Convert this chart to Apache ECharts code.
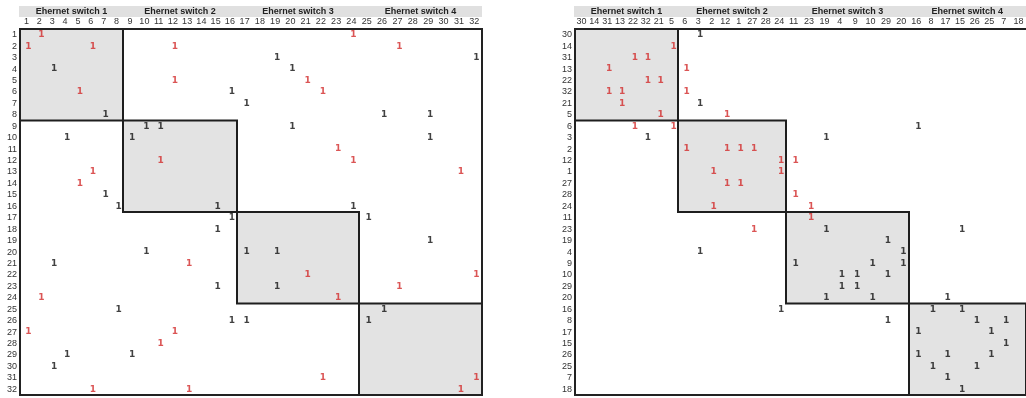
<!DOCTYPE html>
<html>
<head>
<meta charset="utf-8">
<title>Switch port matrix</title>
<script src="https://cdn.jsdelivr.net/npm/echarts@6/dist/echarts.min.js"></script>
<style>
  html, body { margin: 0; padding: 0; background: #fff; }
  #chart { width: 1026px; height: 398px; }
</style>
</head>
<body>
<div id="chart"></div>
<script>
// ports in original order (left) and reordered by switch (right)
const leftOrder = ['1', '2', '3', '4', '5', '6', '7', '8', '9', '10', '11', '12', '13', '14', '15', '16',
  '17', '18', '19', '20', '21', '22', '23', '24', '25', '26', '27', '28', '29', '30', '31', '32']
const rightOrder = ['30', '14', '31', '13', '22', '32', '21', '5', '6', '3', '2', '12', '1', '27', '28', '24',
  '11', '23', '19', '4', '9', '10', '29', '20', '16', '8', '17', '15', '26', '25', '7', '18']
const switchNames = ['Ehernet switch 1', 'Ehernet switch 2', 'Ehernet switch 3', 'Ehernet switch 4']

// [row port, column port] of every cell holding a 1
const redCells = [
  [1, 2], [1, 24], [2, 1], [2, 6], [2, 12], [2, 27], [5, 12], [5, 21], [6, 5], [6, 22],
  [11, 23], [12, 11], [12, 24], [13, 6], [13, 31], [14, 5], [21, 13], [22, 21], [22, 32],
  [23, 27], [24, 2], [24, 23], [27, 1], [27, 12], [28, 11], [31, 22], [31, 32],
  [32, 6], [32, 13], [32, 31]
]
const blackCells = [
  [3, 19], [3, 32], [4, 3], [4, 20], [6, 16], [7, 17], [8, 7], [8, 26], [8, 29],
  [9, 10], [9, 11], [9, 20], [10, 4], [10, 9], [10, 29], [15, 7], [16, 8], [16, 15], [16, 24],
  [17, 16], [17, 25], [18, 15], [19, 29], [20, 10], [20, 17], [20, 19], [21, 3],
  [23, 15], [23, 19], [25, 8], [25, 26], [26, 16], [26, 17], [26, 25], [29, 4], [29, 9], [30, 3]
]

// panel layout: the spreadsheet columns are not all the same width
const panels = [
  { left: 20, top: 29, colW: [103, 114, 122, 123], rowH: 91.5, order: leftOrder },
  { left: 575, top: 29, colW: [103, 108, 123, 123], rowH: 91.5, order: rightOrder }
]
const font = 'Liberation Sans, Arial, sans-serif'

const grid = []
const xAxis = []
const yAxis = []
const series = []
const graphic = []

panels.forEach(p => {
  const totalW = p.colW.reduce((a, b) => a + b, 0)
  // grey header band behind the switch names
  graphic.push({
    type: 'rect',
    z: -1,
    shape: { x: p.left - 1, y: 6, width: totalW + 1, height: 11 },
    style: { fill: '#e0e0e0' }
  })

  let x0 = p.left
  for (let bj = 0; bj < 4; bj++) {
    const cols = p.order.slice(bj * 8, bj * 8 + 8)
    for (let bi = 0; bi < 4; bi++) {
      const rows = p.order.slice(bi * 8, bi * 8 + 8)
      const g = grid.length
      const diag = bi === bj
      grid.push({
        left: x0,
        top: p.top + bi * p.rowH,
        width: p.colW[bj],
        height: p.rowH,
        show: diag,
        backgroundColor: '#e3e3e3',
        borderColor: '#1e1e1e',
        borderWidth: 2
      })
      xAxis.push({
        type: 'category',
        gridIndex: g,
        position: 'top',
        data: cols,
        axisLine: { show: false },
        axisTick: { show: false },
        splitLine: { show: false },
        axisLabel: { show: bi === 0, interval: 0, fontSize: 9, color: '#333', margin: 3, fontFamily: font },
        name: bi === 0 ? switchNames[bj] : '',
        nameLocation: 'middle',
        nameGap: 13,
        nameTextStyle: {
          fontSize: 9,
          fontWeight: 'bold',
          color: '#222',
          fontFamily: font
        }
      })
      yAxis.push({
        type: 'category',
        gridIndex: g,
        inverse: true,
        data: rows,
        axisLine: { show: false },
        axisTick: { show: false },
        splitLine: { show: false },
        axisLabel: { show: bj === 0, interval: 0, fontSize: 9, color: '#333', margin: 3, fontFamily: font }
      })

      // cells that fall in this block
      const pick = list => list
        .filter(c => rows.includes(String(c[0])) && cols.includes(String(c[1])))
        .map(c => [String(c[1]), String(c[0]), 1])
      ;[[redCells, '#d22b2b'], [blackCells, '#111']].forEach(([list, color]) => {
        series.push({
          type: 'scatter',
          xAxisIndex: g,
          yAxisIndex: g,
          symbolSize: 1,
          itemStyle: { color: 'transparent' },
          silent: true,
          label: {
            show: true,
            position: 'inside',
            offset: [2, 0],
            formatter: d => d.value[2],
            color: color,
            fontSize: 9,
            fontWeight: 'bold',
            fontFamily: 'DejaVu Sans, sans-serif'
          },
          data: pick(list)
        })
      })
    }
    x0 += p.colW[bj]
  }
  // outer frame of the matrix
  graphic.push({
    type: 'rect',
    z: 100,
    shape: { x: p.left, y: p.top, width: totalW, height: p.rowH * 4 },
    style: { fill: null, stroke: '#222', lineWidth: 2 }
  })
})

const chart = echarts.init(document.getElementById('chart'))
chart.setOption({
  animation: false,
  grid,
  xAxis,
  yAxis,
  series,
  graphic
})
</script>
</body>
</html>
